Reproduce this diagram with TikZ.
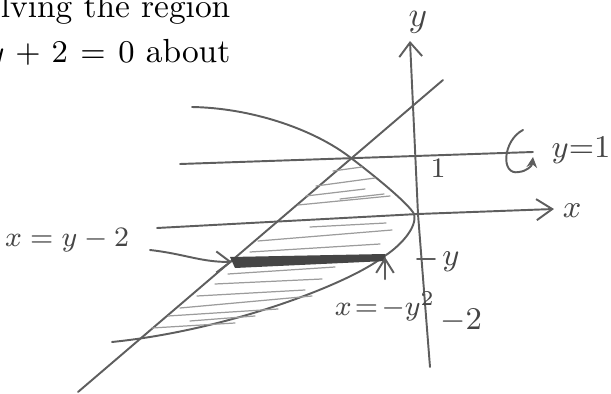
\documentclass[tikz,border=0pt]{standalone}
\usepackage{amsmath, amssymb}
\usepackage{xcolor}
\definecolor{pencil}{HTML}{5E5E5E}
\definecolor{pencil-light}{HTML}{9C9C9C}
\definecolor{pencil-dark}{HTML}{454545}
\usetikzlibrary{arrows.meta}

\begin{document}
\begin{tikzpicture}[x=0.01cm, y=-0.01cm,
    every node/.style={font=\small, text=pencil-dark},
    sketch/.style={draw=pencil, line width=0.55pt, line cap=round},
    hatch/.style={draw=pencil-light, line width=0.35pt, line cap=round},
    printed/.style={text=black, inner sep=0pt, font=\fontsize{9.5}{12}\selectfont}]
    \useasboundingbox (0,0) rectangle (611,394);

    % printed lines of the exercise, cut by the page
    \node[printed, anchor=base east] (ttl1) at (231,18) {lving the region};
    \node[printed, anchor=base east] (ttl2) at (231,62)
      {\medmuskip=6mu \thickmuskip=7mu $y + 2 = 0$ about};

    % axes
    \coordinate (O) at (418,214);
    \draw[sketch, -{Straight Barb[length=4.5pt, width=6pt]}] (157,228) -- (O) -- (554,209);
    \draw[sketch, -{Straight Barb[length=4pt, width=6.5pt]}] (430,367) -- (O) -- (410,41);
    \node (xl) at (572,211) {$x$};
    \node[font=\normalsize] (yl) at (418,22) {$y$};

    % line y = 1 and the turn about it
    \draw[sketch] (180,164) -- (533,152);
    \draw[sketch, -{Stealth[length=3pt, width=3pt]}] (523,130)
      .. controls (503,140) and (500,176) .. (519,172)
      .. controls (527,171) and (532,166) .. (533,157);
    \node (yone) at (581,150) {$y{=}1$};
    \node[font=\footnotesize] (one) at (438,168) {$1$};

    % line x = y - 2
    \draw[sketch] (78,392) -- (443,80);

    % parabola x = -y^2
    \draw[sketch] (192,107) .. controls (250,108) and (310,128) .. (347,155)
      .. controls (375,176) and (409,204) .. (414,214)
      .. controls (418,228) and (398,248) .. (383,257)
      .. controls (350,283) and (230,330) .. (112,342);

    % shading of the region
    \foreach \xa/\ya/\xb/\yb in {333/171/362/167, 316/186/375/178, 306/196/365/189,
        298/205/390/196, 340/199/384/194, 310/227/386/223, 258/241/392/230,
        250/252/380/244, 228/274/335/267, 215/284/322/279, 197/296/305/290,
        180/308/312/296, 168/316/278/309, 190/321/255/316, 152/328/235/323}
      \draw[hatch] (\xa,\ya) -- (\xb,\yb);

    % the strip
    \coordinate (sL) at (232,262);
    \coordinate (sR) at (385,257);
    \fill[pencil-dark] (230,257) -- (385,254) -- (386,261) -- (235,268) -- cycle;

    % labels with arrows
    \node[font=\footnotesize] (lline) at (67,240) {$x = y - 2$};
    \coordinate (lstart) at (150,250);
    \draw[sketch, -{Straight Barb[length=4pt, width=6pt]}] (lstart)
      .. controls (185,254) and (200,262) .. (sL);
    \node[font=\footnotesize] (lpar) at (385,306) {$x\!=\!-y^{2}$};
    \draw[sketch, -{Straight Barb[length=4pt, width=5pt]}] (lpar.north -| sR) -- (sR);

    % marks on the y axis
    \draw[sketch] (417,259) -- (435,259);
    \node (ym) at (451,262) {$y$};
    \node (ytwo) at (461,321) {$-2$};
\end{tikzpicture}
\end{document}
